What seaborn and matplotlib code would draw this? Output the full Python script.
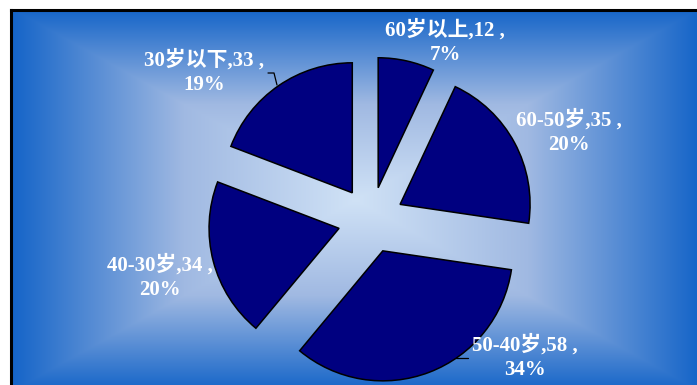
import numpy as np
import matplotlib
matplotlib.use("Agg")
import matplotlib.pyplot as plt
import seaborn as sns

# Age groups of respondents (clockwise from 12 o'clock)
categories = ["60岁以上", "60-50岁", "50-40岁", "40-30岁", "30岁以下"]
counts = [12, 35, 58, 34, 33]

sns.set_style("white")
plt.rcParams["font.family"] = ["Liberation Serif", "Noto Sans CJK SC", "DejaVu Sans"]

W, H = 697, 385
fig = plt.figure(figsize=(W / 100, H / 100), dpi=100)
fig.patch.set_facecolor("white")

# ---- background panel with a rectangular centre-out gradient ----
bx0, by0 = 11, 10            # panel's top-left corner in pixels
bg = fig.add_axes([bx0 / W, 0, (W - bx0) / W, (H - by0) / H])
gx = np.linspace(bx0, W, 700)
gy = np.linspace(by0, H, 380)
X, Y = np.meshgrid(gx, gy)
cx, cy, hw, hh = 356, 200, 345, 192
t = np.clip(np.maximum(np.abs(X - cx) / hw, np.abs(Y - cy) / hh), 0, 1)
stops_t = [0.0, 0.5, 1.0]
stops_rgb = np.array([[208, 226, 246], [160, 185, 226], [20, 100, 200]]) / 255
img = np.stack([np.interp(t, stops_t, stops_rgb[:, k]) for k in range(3)], axis=-1)
bg.imshow(img, extent=(bx0, W, H, by0), aspect="auto", interpolation="bilinear")
bg.set_xlim(bx0, W)
bg.set_ylim(H, by0)
bg.set_xticks([])
bg.set_yticks([])
for side in ("right", "bottom"):
    bg.spines[side].set_visible(False)
for side in ("left", "top"):
    bg.spines[side].set_color("black")
    bg.spines[side].set_linewidth(2.2)

# ---- exploded pie ----
pcx, pcy, pr = 371, 220, 130   # pie centre and radius in pixels
ax = fig.add_axes([0, 0, 1, 1])
ax.set_facecolor("none")
navy = sns.color_palette(["#000080"])[0]
wedges, _ = ax.pie(
    counts,
    explode=[0.254] * len(counts),
    startangle=90,
    counterclock=False,
    colors=[navy] * len(counts),
    wedgeprops=dict(edgecolor="black", linewidth=1.1),
)
ax.set_xlim(-pcx / pr, (W - pcx) / pr)
ax.set_ylim(-(H - pcy) / pr, pcy / pr)
ax.set_aspect("equal")
ax.axis("off")


def px(x, y):
    """pixel position -> pie data coordinates"""
    return (x - pcx) / pr, (pcy - y) / pr


total = sum(counts)
label_pos = [(445, 42), (569, 132), (525, 357), (160, 277), (204, 72)]
for cat, val, (lx, ly) in zip(categories, counts, label_pos):
    pct = int(round(val / total * 100))
    ax.text(*px(lx, ly), f"{cat},{val} ,\n{pct}%", ha="center", va="center",
            color="white", fontsize=15, fontweight="bold", linespacing=1.3)

# leader lines
for pts in ([(268, 73), (274, 73), (277, 85)], [(456, 358), (468, 358)]):
    xs, ys = zip(*[px(x, y) for x, y in pts])
    ax.plot(xs, ys, color="black", linewidth=0.9)

fig.savefig("out.png", dpi=100)
